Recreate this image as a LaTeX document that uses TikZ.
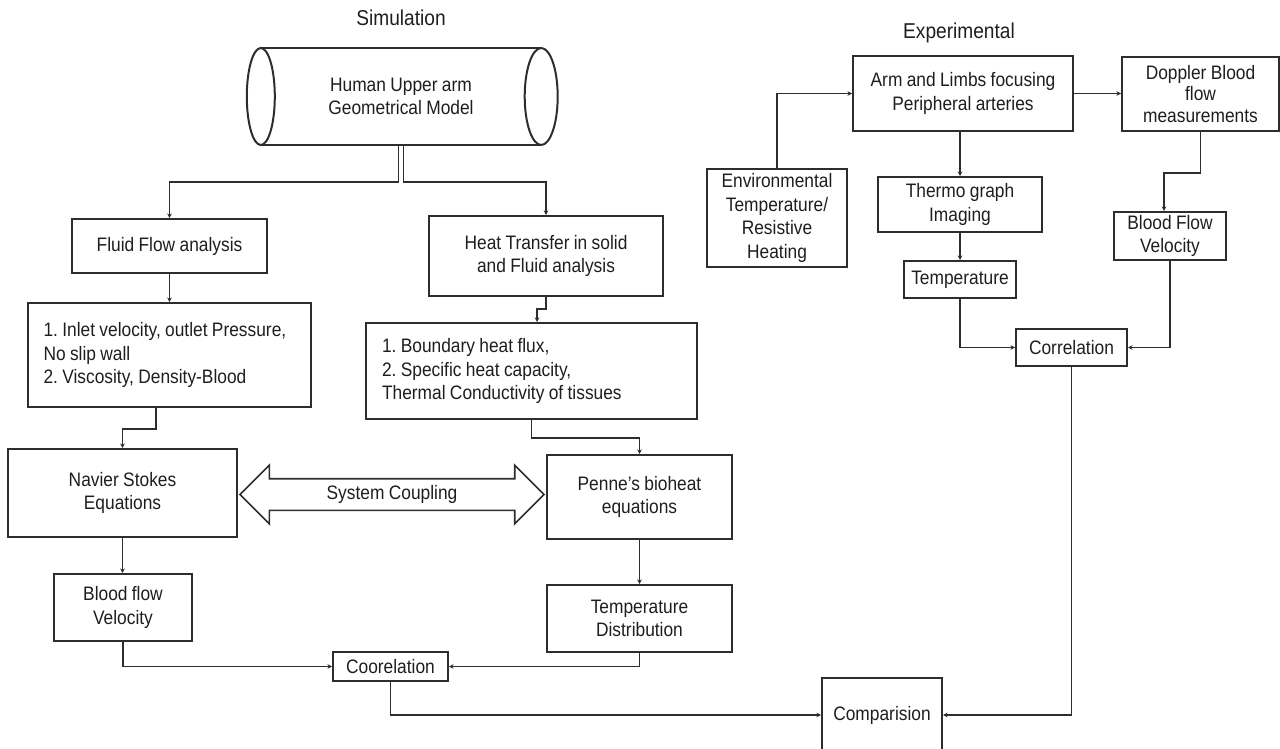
\documentclass[tikz,border=0pt]{standalone}
\usepackage{fontspec}
\setmainfont{Liberation Sans}[FakeStretch=0.89, WordSpace=0.9]
\usetikzlibrary{arrows.meta,shapes.arrows,calc}
\definecolor{ink}{RGB}{30,30,30}
\definecolor{wire}{RGB}{45,45,45}
\frenchspacing

\begin{document}
\begin{tikzpicture}[
  x=1pt, y=-1pt,
  >={Stealth[length=4.5pt,width=4.5pt]},
  txt/.style={font=\fontsize{19.5}{23.5}\selectfont, text=ink},
  hdr/.style={font=\fontsize{21.5}{25}\selectfont, text=ink},
  blk/.style={txt, draw=wire, line width=2pt, inner sep=0pt, align=center},
  lnk/.style={->, draw=wire, line width=1.8pt},
  couple/.style={txt, draw=wire, line width=1.7pt, double arrow, double arrow head extend=13.5pt,
                 minimum height=304pt, text height=14pt, text depth=4pt, inner xsep=0pt, inner ysep=6pt},
]
\clip (0,0) rectangle (1280,749);

% ---- headings ----
\node[hdr] (simT) at (401,18) {Simulation};
\node[hdr] (expT) at (959,33) {Experimental};

% ---- the arm model (cylinder) ----
\node[txt, minimum width=280pt, minimum height=97pt, align=center] (geo) at (401,96.5) {Human Upper arm\\Geometrical Model};
\draw[wire, line width=2pt] (geo.north west) -- (geo.north east) (geo.south west) -- (geo.south east);
\draw[wire, line width=2pt] (geo.west) ellipse [x radius=14pt, y radius=48.5pt];
\draw[wire, line width=2pt] (geo.east) ellipse [x radius=16.5pt, y radius=48.5pt];

% ---- fluid branch ----
\node[blk, minimum width=195pt, minimum height=54pt] (fluid) at (169.5,246) {Fluid Flow analysis};
\node[blk, minimum width=283pt, minimum height=104pt, text width=252pt, align=flush left] (inlet) at (169.5,355)
  {1. Inlet velocity, outlet Pressure,\\No slip wall\\2. Viscosity, Density-Blood};
\node[blk, minimum width=229pt, minimum height=88pt] (navier) at (122.5,493) {Navier Stokes\\Equations};
\node[blk, minimum width=138pt, minimum height=67pt] (bloodS) at (123,607.5) {Blood flow\\Velocity};
\node[blk, minimum width=115pt, minimum height=29pt] (coorS) at (390.5,666.5) {Coorelation};

% ---- heat branch ----
\node[blk, minimum width=234pt, minimum height=80pt] (heat) at (546,256) {Heat Transfer in solid\\and Fluid analysis};
\node[blk, minimum width=331pt, minimum height=96pt, text width=299pt, align=flush left] (bound) at (531.5,371)
  {1. Boundary heat flux,\\2. Specific heat capacity,\\Thermal Conductivity of tissues};
\node[blk, minimum width=185pt, minimum height=84pt] (penne) at (639.5,497) {Penne's bioheat\\equations};
\node[blk, minimum width=185pt, minimum height=67pt] (tdist) at (639.5,618.5) {Temperature\\Distribution};

% ---- coupling ----
\node[couple] (coup) at (392,494.5) {System Coupling};

% ---- experimental ----
\node[blk, minimum width=220pt, minimum height=75pt] (arm) at (963,93.5) {Arm and Limbs focusing\\Peripheral arteries};
\node[blk, minimum width=140pt, minimum height=98pt] (env) at (777,218) {Environmental\\Temperature/\\Resistive\\Heating};
\node[blk, minimum width=164pt, minimum height=55pt] (thermo) at (960,204.5) {Thermo graph\\Imaging};
\node[blk, minimum width=112pt, minimum height=37pt] (temp) at (960,279.5) {Temperature};
\node[blk, minimum width=111pt, minimum height=37pt] (corrE) at (1071.5,347.5) {Correlation};
\node[blk, minimum width=157pt, minimum height=74pt, font=\fontsize{19.5}{21.5}\selectfont] (doppler) at (1200.5,94)
  {Doppler Blood\\flow\\measurements};
\node[blk, minimum width=112pt, minimum height=48pt] (bloodE) at (1170,236) {Blood Flow\\Velocity};

% ---- comparison ----
\node[blk, minimum width=120pt, minimum height=74pt] (comp) at (882,715) {Comparision};

% ---- links: simulation ----
\draw[lnk] ([xshift=-2.5pt]geo.south) -- ++(0,37) -| (fluid.north);
\draw[lnk] ([xshift=2.5pt]geo.south) -- ++(0,37) -| (heat.north);
\draw[lnk] (fluid) -- (inlet);
\draw[lnk] ([xshift=-13.5pt]inlet.south) -- ++(0,21) -| (navier.north);
\draw[lnk] (navier.south) -- (navier.south |- bloodS.north);
\draw[lnk] (bloodS.south) |- (coorS.west);
\draw[lnk] (heat.south) -- ++(0,12) -| ([xshift=5.5pt]bound.north);
\draw[lnk] (bound.south) -- ++(0,18) -| (penne.north);
\draw[lnk] (penne) -- (tdist);
\draw[lnk] (tdist.south) |- (coorS.east);
\draw[lnk] (coorS.south) |- (comp.west);

% ---- links: experimental ----
\draw[lnk] (env.north) |- (arm.west);
\draw[lnk] (arm.east) -- (arm.east -| doppler.west);
\draw[lnk] (arm.south -| thermo.north) -- (thermo.north);
\draw[lnk] (thermo) -- (temp);
\draw[lnk] (temp.south) |- (corrE.west);
\draw[lnk] (doppler.south) -- ++(0,41) -| ([xshift=-6pt]bloodE.north);
\draw[lnk] (bloodE.south) |- (corrE.east);
\draw[lnk] (corrE.south) |- (comp.east);

\end{tikzpicture}
\end{document}
